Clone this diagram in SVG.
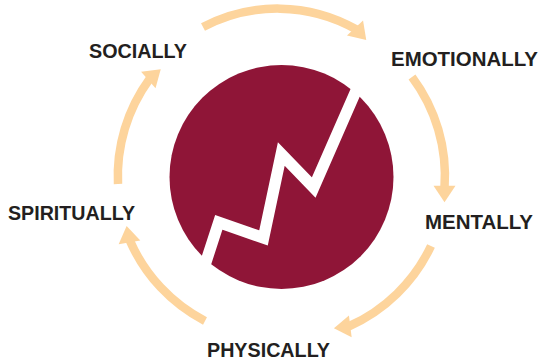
<svg xmlns="http://www.w3.org/2000/svg" xmlns:xlink="http://www.w3.org/1999/xlink" width="545" height="362" viewBox="0 0 545 362">
<style>
.lbl{font-family:"Liberation Sans",Arial,sans-serif;font-weight:bold;font-size:20px;fill:#231f20}
.shaft{fill:none;stroke:#fdd49c;stroke-width:8.5;stroke-linecap:butt}
.head{fill:#fdd49c}
</style>
<defs>
<path id="ah" d="M0,-11 L16.5,0 L0,11 Z"/>
</defs>
<rect width="545" height="362" fill="#ffffff"/>
<g id="center">
<circle cx="281.5" cy="177" r="112" fill="#8f1537"/>
<polyline points="202,274 218.8,222.3 263.5,238 281.3,154 313.7,187.5 366,68" fill="none" stroke="#ffffff" stroke-width="11.5" stroke-linejoin="miter" stroke-miterlimit="10"/>
</g>
<g id="connectors">
<path class="shaft" d="M203,27 A160,160 0 0 1 356.5,29.5"/>
<use class="head" xlink:href="#ah" transform="translate(355,28) rotate(47)"/>
<path class="shaft" d="M412,77 A165,165 0 0 1 444.5,188"/>
<use class="head" xlink:href="#ah" transform="translate(444.5,185.7) rotate(90)"/>
<path class="shaft" d="M431,246 A165,165 0 0 1 348.5,326.5"/>
<use class="head" xlink:href="#ah" transform="translate(350.3,326.3) rotate(173)"/>
<path class="shaft" d="M205,321 A165,165 0 0 1 129.8,240.5"/>
<use class="head" xlink:href="#ah" transform="translate(129.5,242.3) rotate(-100)"/>
<path class="shaft" d="M118,184 A165,165 0 0 1 149.5,79"/>
<use class="head" xlink:href="#ah" transform="translate(148.3,80) rotate(-41)"/>
</g>
<g id="socially"><text class="lbl" x="89" y="57.5" textLength="98" lengthAdjust="spacingAndGlyphs">SOCIALLY</text></g>
<g id="emotionally"><text class="lbl" x="391" y="66" textLength="147" lengthAdjust="spacingAndGlyphs">EMOTIONALLY</text></g>
<g id="mentally"><text class="lbl" x="425" y="229" textLength="108" lengthAdjust="spacingAndGlyphs">MENTALLY</text></g>
<g id="spiritually"><text class="lbl" x="8" y="220" textLength="127" lengthAdjust="spacingAndGlyphs">SPIRITUALLY</text></g>
<g id="physically"><text class="lbl" x="207" y="357" textLength="123" lengthAdjust="spacingAndGlyphs">PHYSICALLY</text></g>
</svg>
